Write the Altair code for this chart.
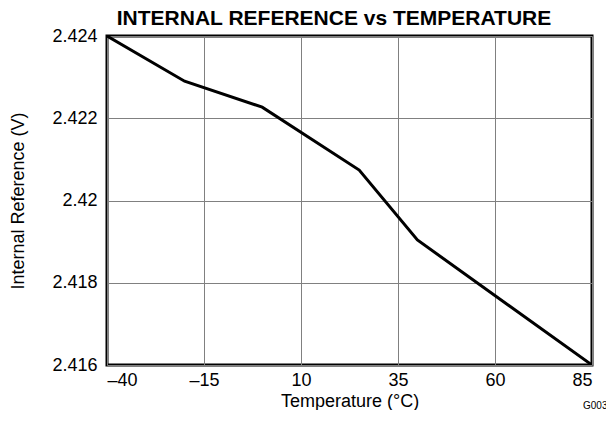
import altair as alt
import pandas as pd

temperature = [-40, -20, 0, 25, 40, 85]
vref = [2.4240, 2.42290, 2.42227, 2.42074, 2.41904, 2.4160]

x_ticks = [-40, -15, 10, 35, 60, 85]
y_ticks = [2.416, 2.418, 2.420, 2.422, 2.424]

chart_title = "INTERNAL REFERENCE vs TEMPERATURE"
figure_code = "G003"

df = pd.DataFrame({"t": temperature, "v": vref})

FONT = "Liberation Sans"

line = alt.Chart(df).mark_line(color="black", strokeWidth=3, clip=True).encode(
    x=alt.X("t:Q", scale=alt.Scale(domain=[-40, 85], nice=False, zero=False),
            axis=alt.Axis(values=x_ticks, title="Temperature (°C)",
                          labelExpr="datum.value < 0 ? '–' + abs(datum.value) : '' + datum.value")),
    y=alt.Y("v:Q", scale=alt.Scale(domain=[2.416, 2.424], nice=False, zero=False),
            axis=alt.Axis(values=y_ticks, title="Internal Reference (V)", format="~f")),
)

title_mark = alt.Chart(pd.DataFrame({"s": [chart_title]})).mark_text(
    align="center", baseline="alphabetic", fontSize=21, fontWeight="bold",
    font=FONT, color="black"
).encode(x=alt.value(227), y=alt.value(-11.5), text="s:N")

note = alt.Chart(pd.DataFrame({"s": [figure_code]})).mark_text(
    align="left", baseline="middle", fontSize=10, font=FONT, color="black"
).encode(x=alt.value(476), y=alt.value(370), text="s:N")

chart = alt.layer(line, title_mark, note).properties(
    width=485, height=329,
    autosize=alt.AutoSizeParams(type="none"),
    padding={"left": 99, "top": 28, "right": 14, "bottom": 45},
).configure_view(
    stroke="black", strokeWidth=3
).configure_axis(
    grid=True, gridColor="#808080", gridWidth=1, gridOpacity=1,
    domain=False, ticks=False,
    labelFont=FONT, labelFontSize=18, labelColor="black",
    titleFont=FONT, titleFontSize=18, titleFontWeight="normal", titleColor="black",
).configure_axisX(
    labelPadding=6, titlePadding=3
).configure_axisY(
    labelPadding=10, titlePadding=24
)

chart.save("out.html", embed_options={"renderer": "svg", "actions": False})
